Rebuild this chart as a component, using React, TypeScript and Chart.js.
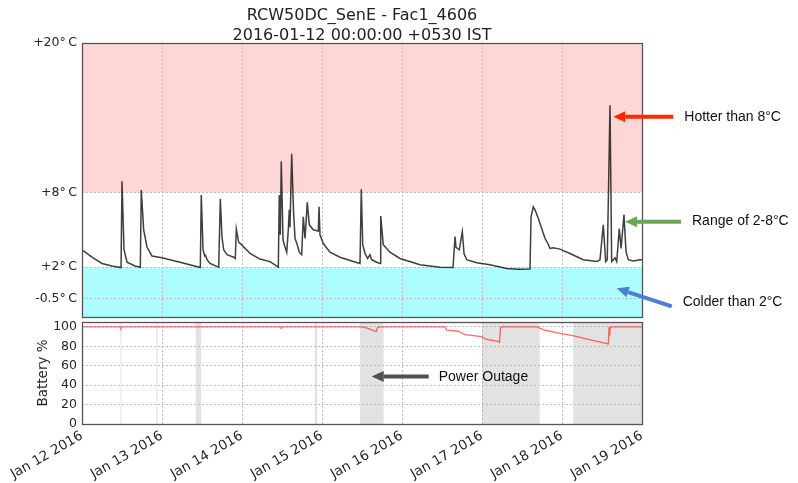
import React, { useEffect, useRef } from "react";
import { Chart, registerables } from "chart.js";

Chart.register(...registerables);

// ---------- data ----------
const titleLines = ["RCW50DC_SenE - Fac1_4606", "2016-01-12 00:00:00 +0530 IST"];
const dayLabels = [
  "Jan 12 2016", "Jan 13 2016", "Jan 14 2016", "Jan 15 2016",
  "Jan 16 2016", "Jan 17 2016", "Jan 18 2016", "Jan 19 2016",
];
const tempTicks = [20, 8, 2, -0.5];
const tempTickLabels = ["+20°\u2009C", "+8°\u2009C", "+2°\u2009C", "-0.5°\u2009C"];
const tempMin = -2;
const tempMax = 20;
const hotThreshold = 8;
const coldThreshold = 2;

// days since 2016-01-12 00:00
const tempDays = [
  0, 0.125, 0.25, 0.375, 0.488, 0.5, 0.525, 0.563, 0.663, 0.729,
  0.741, 0.771, 0.813, 0.875, 1.0, 1.25, 1.479, 1.491, 1.513, 1.534,
  1.544, 1.563, 1.6, 1.709, 1.729, 1.75, 1.771, 1.813, 1.896, 1.916,
  1.929, 1.959, 1.988, 2.1, 2.225, 2.35, 2.454, 2.466, 2.479, 2.491,
  2.513, 2.529, 2.559, 2.579, 2.591, 2.6, 2.621, 2.644, 2.663, 2.691,
  2.716, 2.746, 2.766, 2.788, 2.816, 2.841, 2.891, 2.954, 2.963, 2.975,
  3.016, 3.1, 3.225, 3.391, 3.475, 3.491, 3.509, 3.538, 3.571, 3.6,
  3.621, 3.684, 3.725, 3.734, 3.766, 3.85, 3.975, 4.225, 4.475, 4.638,
  4.663, 4.675, 4.716, 4.754, 4.775, 4.809, 4.934, 5.1, 5.309, 5.454,
  5.6, 5.613, 5.641, 5.663, 5.704, 5.746, 5.788, 5.816, 5.85, 5.891,
  5.975, 6.1, 6.266, 6.434, 6.475, 6.516, 6.546, 6.566, 6.6, 6.621,
  6.663, 6.684, 6.716, 6.738, 6.775, 6.8, 6.829, 6.891, 6.975, 7.0,
];
const tempValues = [
  3.4, 2.8, 2.3, 2.1, 1.97, 8.9, 3.4, 2.4, 2.1, 2.0,
  8.2, 5.0, 3.6, 2.9, 2.75, 2.35, 1.98, 7.8, 3.4, 2.9,
  2.95, 2.6, 2.3, 2.0, 7.5, 4.4, 3.4, 3.0, 2.8, 2.7,
  5.06, 4.0, 3.85, 3.1, 2.65, 2.45, 2.0, 7.8, 4.6, 10.5,
  4.2, 3.8, 3.2, 5.0, 6.6, 5.2, 11.1, 6.5, 4.3, 3.8,
  3.2, 3.0, 6.05, 4.3, 7.2, 5.4, 5.0, 4.9, 6.85, 4.6,
  3.9, 3.2, 2.8, 2.45, 2.3, 8.25, 3.8, 3.1, 2.7, 3.0,
  2.6, 2.4, 2.3, 6.1, 3.8, 3.2, 2.7, 2.2, 2.0, 1.98,
  4.45, 3.6, 3.4, 4.85, 3.1, 2.6, 2.35, 2.2, 1.9, 1.83,
  1.85, 6.05, 6.85, 6.6, 5.9, 5.1, 4.3, 4.0, 3.5, 3.55,
  3.45, 3.1, 2.6, 2.45, 2.6, 5.4, 2.45, 2.6, 15.0, 2.45,
  2.75, 2.45, 5.1, 3.5, 6.2, 3.25, 2.6, 2.5, 2.6, 2.6,
];

const batteryDays = [
  0, 0.48, 0.484, 0.49, 2.485, 2.49, 2.495, 3.475, 3.538, 3.621,
  3.663, 3.681, 3.694, 3.763, 4.538, 4.559, 4.704, 4.788, 4.996, 5.059,
  5.204, 5.219, 5.231, 5.263, 5.684, 5.788, 5.996, 6.163, 6.329, 6.579,
  6.588, 6.595, 6.604, 7.0,
];
const batteryValues = [
  100, 100, 99, 100, 100, 98.5, 100, 100, 99.5, 97,
  95.5, 95.5, 99.5, 100, 100, 96.5, 95.5, 92, 90, 87,
  85, 84, 99.5, 100, 100, 96.5, 93, 90.5, 87, 82.5,
  100, 91, 100, 100,
];
const batteryTicks = [0, 20, 40, 60, 80, 100];
const batteryMax = 105;

const outageStarts = [0.482, 0.93, 1.42, 2.91, 3.475, 5.0, 6.14];
const outageEnds = [0.492, 0.945, 1.49, 2.94, 3.77, 5.72, 7.0];

// ---------- annotation config (anchored at data coordinates) ----------
type Note = {
  text: string;
  at: [number, number];
  tail: [number, number];
  label: [number, number];
  color: string;
};
const tempNotes: Note[] = [
  { text: "Hotter than 8°C", at: [6.641, 14.08], tail: [60, 0], label: [71, 0.5], color: "#ff2a00" },
  { text: "Range of 2-8°C", at: [6.7875, 5.65], tail: [56, 0], label: [67, -0.5], color: "#6aa84f" },
  { text: "Colder than 2°C", at: [6.684, 0.3], tail: [55, 18], label: [66, 14], color: "#4a7fd4" },
];
const batteryNotes: Note[] = [
  { text: "Power Outage", at: [3.621, 48.8], tail: [57, 0], label: [67, 0.5], color: "#4a5252" },
];

// ---------- helpers ----------
const TICK_FONT = { family: "'DejaVu Sans', sans-serif", size: 12.5 };
const XTICK_FONT = { family: "'DejaVu Sans', sans-serif", size: 13.5 };
const GRID_COLOR = "#bdbdbd";
const AXIS_W = 82;

function drawArrow(ctx: CanvasRenderingContext2D, tx: number, ty: number, fx: number, fy: number, color: string) {
  const shaft = 4, headLen = 12, headW = 11;
  const ang = Math.atan2(ty - fy, tx - fx);
  const bx = tx - headLen * Math.cos(ang);
  const by = ty - headLen * Math.sin(ang);
  ctx.save();
  ctx.strokeStyle = color;
  ctx.fillStyle = color;
  ctx.lineWidth = shaft;
  ctx.lineCap = "butt";
  ctx.beginPath();
  ctx.moveTo(fx, fy);
  ctx.lineTo(bx, by);
  ctx.stroke();
  ctx.beginPath();
  ctx.moveTo(tx, ty);
  ctx.lineTo(bx + (headW / 2) * Math.sin(ang), by - (headW / 2) * Math.cos(ang));
  ctx.lineTo(bx - (headW / 2) * Math.sin(ang), by + (headW / 2) * Math.cos(ang));
  ctx.closePath();
  ctx.fill();
  ctx.restore();
}

function drawNotes(chart: any, notes: Note[]) {
  const ctx = chart.ctx as CanvasRenderingContext2D;
  const xs = chart.scales.x, ys = chart.scales.y;
  notes.forEach((n) => {
    const tx = xs.getPixelForValue(n.at[0]);
    const ty = ys.getPixelForValue(n.at[1]);
    drawArrow(ctx, tx, ty, tx + n.tail[0], ty + n.tail[1], n.color);
    ctx.save();
    ctx.font = "14px 'Liberation Sans', Arial, sans-serif";
    ctx.fillStyle = "#111";
    ctx.textAlign = "left";
    ctx.textBaseline = "middle";
    ctx.fillText(n.text, tx + n.label[0], ty + n.label[1]);
    ctx.restore();
  });
}

function drawFrame(chart: any) {
  const { ctx, chartArea: a } = chart;
  ctx.save();
  ctx.strokeStyle = "#555";
  ctx.lineWidth = 1.3;
  ctx.strokeRect(Math.round(a.left) + 0.5, Math.round(a.top) + 0.5, Math.round(a.right - a.left), Math.round(a.bottom - a.top));
  ctx.restore();
}

const tempPlugin = {
  id: "tempDecor",
  beforeDraw(chart: any) {
    const { ctx, chartArea: a } = chart;
    const y = chart.scales.y;
    ctx.save();
    ctx.fillStyle = "#ffd6d6";
    const yTop = y.getPixelForValue(tempMax);
    const yHot = y.getPixelForValue(hotThreshold);
    ctx.fillRect(a.left, yTop, a.right - a.left, yHot - yTop);
    ctx.fillStyle = "#adffff";
    const yCold = y.getPixelForValue(coldThreshold);
    const yBot = y.getPixelForValue(tempMin);
    ctx.fillRect(a.left, yCold, a.right - a.left, yBot - yCold);
    ctx.restore();
  },
  afterDraw(chart: any) {
    drawFrame(chart);
    const { ctx, chartArea: a } = chart;
    ctx.save();
    ctx.font = "16px 'DejaVu Sans', sans-serif";
    ctx.fillStyle = "#222";
    ctx.textAlign = "center";
    ctx.textBaseline = "alphabetic";
    const cx = (a.left + a.right) / 2;
    ctx.fillText(titleLines[0], cx, 20);
    ctx.fillText(titleLines[1], cx, 39.5);
    ctx.restore();
    drawNotes(chart, tempNotes);
  },
};

const batteryPlugin = {
  id: "batteryDecor",
  beforeDraw(chart: any) {
    const { ctx, chartArea: a } = chart;
    const x = chart.scales.x;
    ctx.save();
    ctx.fillStyle = "#e2e2e2";
    outageStarts.forEach((s, i) => {
      const x0 = x.getPixelForValue(s);
      const x1 = x.getPixelForValue(outageEnds[i]);
      ctx.fillRect(x0, a.top, Math.max(1, x1 - x0), a.bottom - a.top);
    });
    ctx.restore();
  },
  afterDraw(chart: any) {
    drawFrame(chart);
    drawNotes(chart, batteryNotes);
  },
};

function gridOpts() {
  return { color: GRID_COLOR, lineWidth: 1, drawTicks: false, borderDash: [2, 2] };
}

export default function App() {
  const topRef = useRef<HTMLCanvasElement>(null);
  const botRef = useRef<HTMLCanvasElement>(null);

  useEffect(() => {
    Chart.defaults.font.family = "'DejaVu Sans', sans-serif";
    Chart.defaults.color = "#262626";

    const tempChart = new Chart(topRef.current as HTMLCanvasElement, {
      type: "line",
      data: {
        datasets: [
          {
            data: tempDays.map((d, i) => ({ x: d, y: tempValues[i] })),
            borderColor: "rgba(15,15,15,0.8)",
            borderWidth: 1.5,
            pointRadius: 0,
            tension: 0,
            fill: false,
          },
        ],
      },
      options: {
        animation: false,
        responsive: false,
        devicePixelRatio: 1,
        events: [],
        layout: { padding: { top: 43, left: 0, right: 156, bottom: 13 } },
        plugins: { legend: { display: false }, tooltip: { enabled: false }, title: { display: false } },
        scales: {
          x: {
            type: "linear",
            min: 0,
            max: 7,
            ticks: { display: false, stepSize: 1 },
            grid: gridOpts(),
            border: { display: false, dash: [2, 2] },
            afterFit: (s: any) => { s.height = 0; },
          },
          y: {
            type: "linear",
            min: tempMin,
            max: tempMax,
            afterBuildTicks: (s: any) => { s.ticks = tempTicks.map((v) => ({ value: v })); },
            ticks: {
              font: TICK_FONT,
              padding: 5,
              callback: (v: any) => tempTickLabels[tempTicks.indexOf(Number(v))] ?? "",
            },
            grid: gridOpts(),
            border: { display: false, dash: [2, 2] },
            afterFit: (s: any) => { s.width = AXIS_W; },
          },
        },
      } as any,
      plugins: [tempPlugin],
    });

    const batChart = new Chart(botRef.current as HTMLCanvasElement, {
      type: "line",
      data: {
        datasets: [
          {
            data: batteryDays.map((d, i) => ({ x: d, y: batteryValues[i] })),
            borderColor: "rgba(255,30,30,0.65)",
            borderWidth: 1.3,
            pointRadius: 0,
            tension: 0,
            fill: false,
          },
        ],
      },
      options: {
        animation: false,
        responsive: false,
        devicePixelRatio: 1,
        events: [],
        layout: { padding: { top: 22, left: 0, right: 156, bottom: 0 } },
        plugins: { legend: { display: false }, tooltip: { enabled: false }, title: { display: false } },
        scales: {
          x: {
            type: "linear",
            min: 0,
            max: 7,
            ticks: {
              stepSize: 1,
              autoSkip: false,
              minRotation: 30,
              maxRotation: 30,
              padding: 4,
              font: XTICK_FONT,
              callback: (v: any) => dayLabels[Number(v)] ?? "",
            },
            grid: gridOpts(),
            border: { display: false, dash: [2, 2] },
            afterFit: (s: any) => { s.height = 59; },
          },
          y: {
            type: "linear",
            min: 0,
            max: batteryMax,
            afterBuildTicks: (s: any) => { s.ticks = batteryTicks.map((v) => ({ value: v })); },
            ticks: { font: TICK_FONT, padding: 5 },
            title: {
              display: true,
              text: "Battery %",
              font: XTICK_FONT,
              padding: { top: 35, bottom: 0 },
            },
            grid: gridOpts(),
            border: { display: false, dash: [2, 2] },
            afterFit: (s: any) => { s.width = AXIS_W; },
          },
        },
      } as any,
      plugins: [batteryPlugin],
    });

    return () => {
      tempChart.destroy();
      batChart.destroy();
    };
  }, []);

  return (
    <div style={{ position: "absolute", left: 0, top: 0, width: 798, height: 483, background: "#fff", overflow: "hidden" }}>
      <canvas ref={topRef} width={798} height={330} style={{ position: "absolute", left: 0, top: 0 }} />
      <canvas ref={botRef} width={798} height={183} style={{ position: "absolute", left: 0, top: 300 }} />
    </div>
  );
}
